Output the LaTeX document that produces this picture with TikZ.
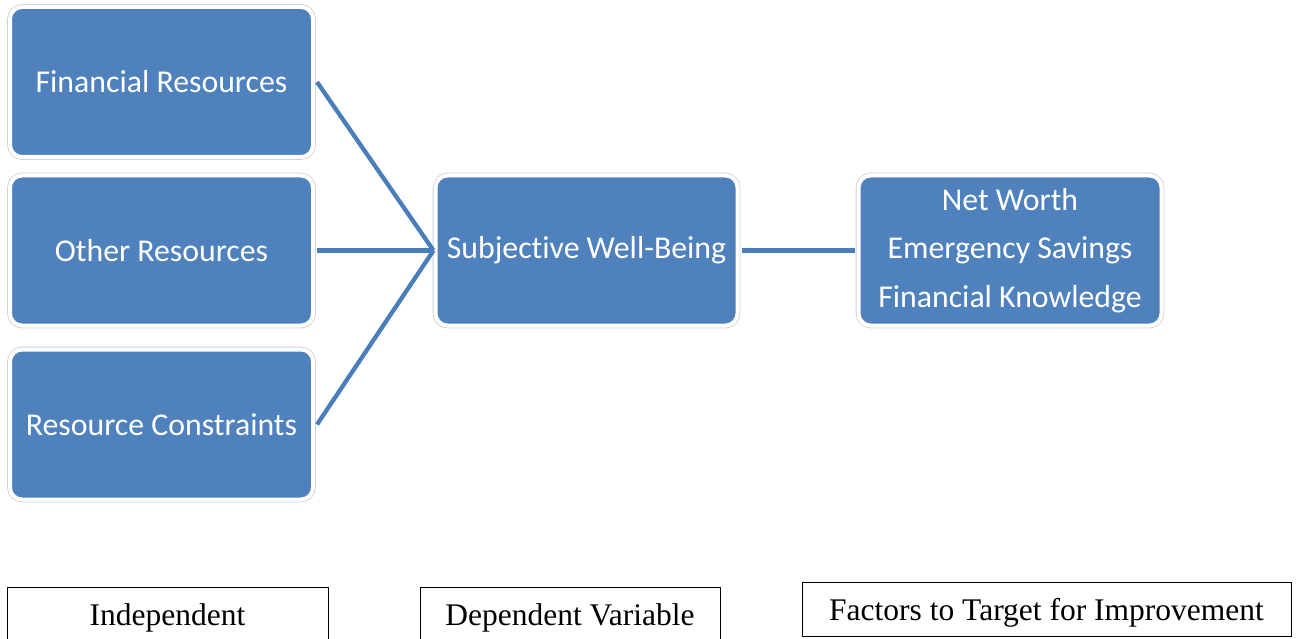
\documentclass[tikz,border=0pt]{standalone}
\usepackage{fontspec}
\setmainfont{Liberation Serif}
\newfontfamily\calib[Ligatures={NoCommon}]{Carlito}
\usetikzlibrary{calc}
\definecolor{boxblue}{HTML}{4F81BD}
\definecolor{lineblue}{HTML}{4A7EBB}
\begin{document}
\begin{tikzpicture}[x=1pt,y=-1pt,
  bluebox/.style={rectangle, rounded corners=12pt, fill=boxblue, draw=white, line width=4pt,
    preaction={draw=black!18, line width=5.6pt},
    minimum width=303pt, minimum height=150pt, inner sep=0pt,
    text=white, font=\calib\fontsize{31.8}{48.5}\selectfont, align=center},
  legbox/.style={rectangle, draw=black, line width=0.9pt, inner xsep=0pt, inner ysep=0pt,
    font=\fontsize{31.5}{36}\selectfont, anchor=north},
  conn/.style={draw=lineblue, line width=4.3pt}
]
\useasboundingbox (0,0) rectangle (1298,639);
\node[bluebox] (fin) at (161.5,82) {Financial Resources};
\node[bluebox] (oth) at (161.5,250.5) {Other Resources};
\node[bluebox] (con) at (161.5,424.5) {Resource Constraints};
\node[bluebox, minimum width=302pt] (swb) at (586.5,250.5) {Subjective Well-Being};
\node[bluebox] (tgt) at (1010,250.5) {Net Worth\\Emergency Savings\\Financial Knowledge};

\draw[conn] ($(fin.east)+(2,0)$) -- (swb.west);
\draw[conn] ($(oth.east)+(2,0)$) -- (swb.west);
\draw[conn] ($(con.east)+(2,0)$) -- (swb.west);
\draw[conn] ($(swb.east)+(2,0)$) -- ($(tgt.west)+(-2,0)$);

\node[legbox, minimum width=321pt, text height=38pt, text depth=35pt] (lind) at (167.5,587) {Independent};
\node[legbox, minimum width=300pt, text height=38pt, text depth=35pt] (ldep) at (570,587) {Dependent Variable};
\node[legbox, minimum width=489pt, text height=38pt, text depth=16pt] (lfac) at (1046.5,582) {Factors to Target for Improvement};
\end{tikzpicture}
\end{document}
